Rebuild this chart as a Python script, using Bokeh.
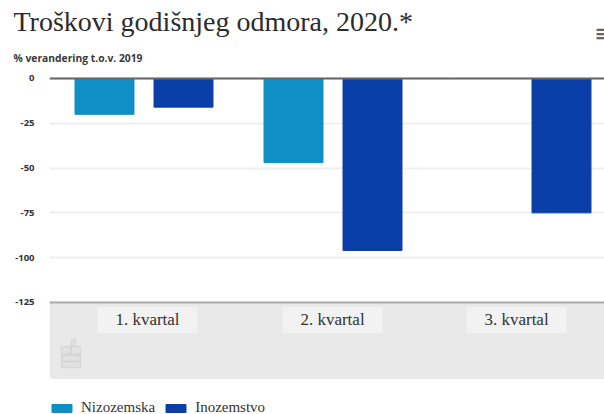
from bokeh.plotting import figure
from bokeh.layouts import column
from bokeh.embed import file_html
from bokeh.resources import INLINE
from bokeh.core.properties import value
from bokeh.models import (Range1d, Span, BoxAnnotation, Legend, LegendItem, FixedTicker, ColumnDataSource, Title)

title = "Troškovi godišnjeg odmora, 2020.*"
subtitle = "% verandering t.o.v. 2019"
categories = ["1. kvartal", "2. kvartal", "3. kvartal"]
series_names = ["Nizozemska", "Inozemstvo"]
nizozemska = [-20, -47, None]
inozemstvo = [-16, -96, -75]
y_ticks = [0, -25, -50, -75, -100, -125]
y_tick_labels = ["0", "-25", "-50", "-75", "-100", "-125"]

C1, C2 = "#0f8fc3", "#0a3fa8"
SERIF = "Liberation Serif"
SANS = "Open Sans"
FL, FB = 49, 379   # frame left and bottom on the page
WIDTH = 604

# ---------- chart ----------
pos = [i + 0.5 for i in range(len(categories))]
label_pos = [q + d for q, d in zip(pos, [0.0185, -0.0026, -0.029])]

p = figure(width=WIDTH, height=379, output_backend="svg", toolbar_location=None,
           x_range=Range1d(0, 555 / 189), y_range=Range1d(-168, 5),
           min_border_left=FL, min_border_right=0, min_border_top=69, min_border_bottom=0,
           outline_line_color=None, background_fill_color="white")
p.xaxis.visible = False
p.xgrid.visible = False
ya = p.yaxis[0]
ya.ticker = FixedTicker(ticks=y_ticks)
ya.major_label_overrides = dict(zip(y_ticks, y_tick_labels))
ya.axis_line_color = None
ya.major_tick_line_color = None
ya.minor_tick_line_color = None
ya.major_tick_out = 0
ya.major_tick_in = 0
ya.major_label_standoff = 15
ya.major_label_text_font = SANS
ya.major_label_text_font_size = "9.5px"
ya.major_label_text_font_style = "bold"
ya.major_label_text_color = "#333333"
p.ygrid.ticker = FixedTicker(ticks=y_ticks)
p.ygrid.grid_line_color = "#efefef"
p.ygrid.grid_line_width = 2

p.add_layout(BoxAnnotation(bottom=-168, top=-125, fill_color="#e9e9e9", fill_alpha=1, line_color=None,
                           border_radius=(0, 0, 0, 5), level="underlay"))

p.vbar(x=[x - 0.209 for x in pos], top=nizozemska, bottom=0, width=0.312, color=C1)
p.vbar(x=[x + 0.209 for x in pos], top=inozemstvo, bottom=0, width=0.312, color=C2)

p.add_layout(Span(location=0, dimension="width", line_color="#666666", line_width=2))
p.add_layout(Span(location=-125, dimension="width", line_color="#aaaaaa", line_width=2))

src = ColumnDataSource(dict(x=label_pos, t=categories, y=[-125 - 17.5 / 1.792] * 3))
p.rect(x="x", y="y", width=100 / 189, height=26 / 1.792, source=src, fill_color="#f2f2f2", line_color=None)
p.text(x="x", y="y", text="t", source=src, text_align="center", text_baseline="middle",
       text_font=value(SERIF), text_font_size="17px", text_color="#333333")

p.add_layout(Title(text=subtitle, text_font=SANS, text_font_size="10.3px", text_font_style="bold",
                   text_color="#3a3a3a", offset=13 - FL, standoff=10), "above")
p.add_layout(Title(text="≡", text_font="DejaVu Sans", text_font_size="19px", text_font_style="bold",
                   text_color="#666666", align="right", offset=-6, standoff=-1), "above")
p.add_layout(Title(text=title, text_font=SERIF, text_font_size="28px", text_font_style="normal",
                   text_color="#2b2b2b", offset=13 - FL, standoff=-32), "above")


def sbox(l, t, r, b, fill, line=None, lw=1):
    p.add_layout(BoxAnnotation(left=l - FL, right=r - FL, top=FB - t, bottom=FB - b,
                               left_units="screen", right_units="screen", top_units="screen",
                               bottom_units="screen", fill_color=fill, fill_alpha=1,
                               line_color=line, line_width=lw))


# logo
for l, t, r, b in [(71, 339, 75, 346), (61, 346, 70, 354), (71, 346, 80, 354), (61, 355, 80, 361), (61, 361, 80, 367)]:
    sbox(l, t, r, b, "#e2e2e2", "#bdbdbd", 1.5)

# ---------- legend ----------
foot = figure(width=WIDTH, height=35, output_backend="svg", toolbar_location=None,
              x_range=Range1d(0, 1), y_range=Range1d(0, 1), x_axis_type=None, y_axis_type=None,
              min_border=0, outline_line_color=None)
foot.xgrid.visible = False
foot.ygrid.visible = False
g1 = foot.vbar(x=[-1], top=[-1], bottom=[-2], width=0.1, color=C1)
g2 = foot.vbar(x=[-1], top=[-1], bottom=[-2], width=0.1, color=C2)
legend = Legend(items=[LegendItem(label=series_names[0], renderers=[g1]),
                       LegendItem(label=series_names[1], renderers=[g2])],
                orientation="horizontal", location=(0, -2), border_line_color=None, background_fill_alpha=0,
                glyph_width=25, glyph_height=10, label_text_font=SERIF, label_text_font_size="15px",
                label_text_color="#333333", margin=0, padding=0, spacing=8, label_standoff=7,
                label_height=9, label_text_line_height=1)
foot.add_layout(legend, "center")

page = column(p, foot, spacing=0)
open("out.html", "w").write(file_html(page, INLINE))
